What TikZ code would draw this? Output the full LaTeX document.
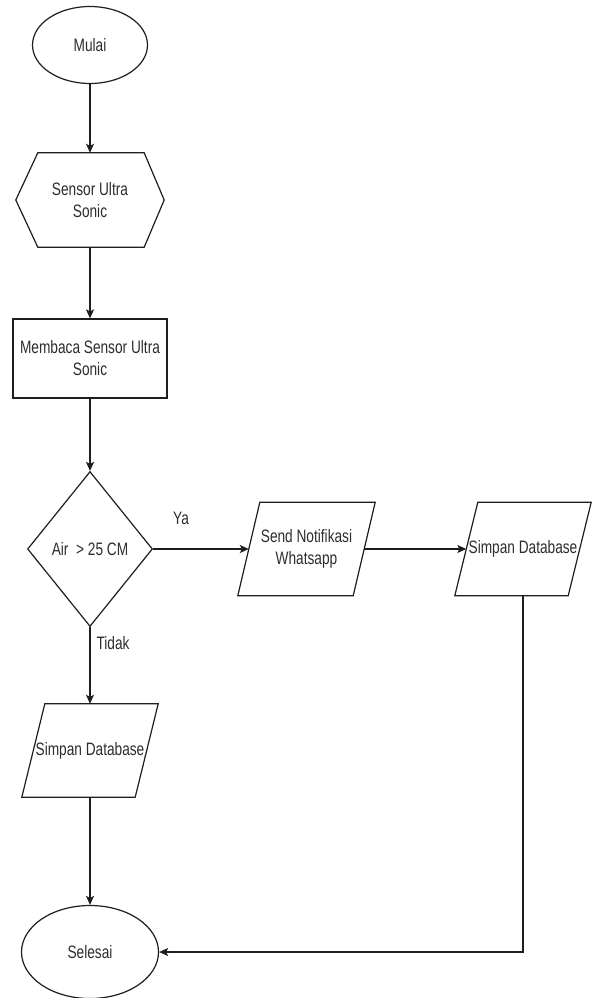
\documentclass[tikz,border=0pt]{standalone}
\usepackage{fontspec}
\setmainfont{Liberation Sans}[FakeStretch=0.76]
\usetikzlibrary{shapes.geometric,arrows.meta}
\definecolor{lc}{RGB}{30,30,30}
\definecolor{tc}{RGB}{45,45,45}
\begin{document}
\begin{tikzpicture}[x=1pt,y=-1pt,
  txt/.style={font=\fontsize{18}{22}\selectfont, text=tc, align=center, inner sep=0pt},
  ln/.style={draw=lc, line width=1.2pt},
  arr/.style={ln, -{Stealth[length=9pt,width=8pt,inset=2pt]}},
  terminal/.style={txt, ellipse, ln},
  procbox/.style={txt, rectangle, ln, minimum width=154pt, minimum height=79pt},
  decision/.style={txt, diamond, ln, minimum width=125pt, minimum height=155pt},
  iobox/.style={txt, rectangle, minimum width=113pt, minimum height=93pt},
  hexbox/.style={txt, rectangle, minimum width=148pt, minimum height=94pt}
]
\fill[white] (0,0) rectangle (597,998);
\useasboundingbox (0,0) rectangle (597,998);

\node[terminal, minimum width=115pt, minimum height=77pt] (mulai) at (90,45) {Mulai};
\node[hexbox] (sensor) at (90,200) {Sensor Ultra\\Sonic};
\draw[ln] (sensor.west) -- ([xshift=22pt]sensor.north west) -- ([xshift=-20pt]sensor.north east)
  -- (sensor.east) -- ([xshift=-20pt]sensor.south east) -- ([xshift=22pt]sensor.south west) -- cycle;
\node[procbox] (baca) at (90,358.5) {Membaca Sensor Ultra\\Sonic};
\node[decision] (dec) at (90,549) {Air\ \ > 25 CM};

\node[iobox, minimum width=115pt] (send) at (306.5,549) {Send Notifikasi\\Whatsapp};
\draw[ln] ([xshift=11pt]send.north west) -- ([xshift=11pt]send.north east)
  -- ([xshift=-11pt]send.south east) -- ([xshift=-11pt]send.south west) -- cycle;

\node[iobox] (dbr) at (523,549) {Simpan Database};
\draw[ln] ([xshift=11.5pt]dbr.north west) -- ([xshift=11.5pt]dbr.north east)
  -- ([xshift=-11.5pt]dbr.south east) -- ([xshift=-11.5pt]dbr.south west) -- cycle;

\node[iobox] (dbl) at (90,750.5) {Simpan Database};
\draw[ln] ([xshift=11.5pt]dbl.north west) -- ([xshift=11.5pt]dbl.north east)
  -- ([xshift=-11.5pt]dbl.south east) -- ([xshift=-11.5pt]dbl.south west) -- cycle;

\node[terminal, minimum width=137pt, minimum height=93pt] (selesai) at (90,952) {Selesai};

\node[txt] (ya) at (181,518) {Ya};
\node[txt] (tidak) at (113,643) {Tidak};

\draw[arr] (mulai) -- (sensor);
\draw[arr] (sensor) -- (baca);
\draw[arr] (baca) -- (dec);
\draw[arr] (dec.east) -- (send.west);
\draw[arr] (send.east) -- (dbr.west);
\draw[arr] (dec.south) -- (dbl.north);
\draw[arr] (dbl) -- (selesai);
\draw[arr] (dbr.south) |- (selesai.east);
\end{tikzpicture}
\end{document}
